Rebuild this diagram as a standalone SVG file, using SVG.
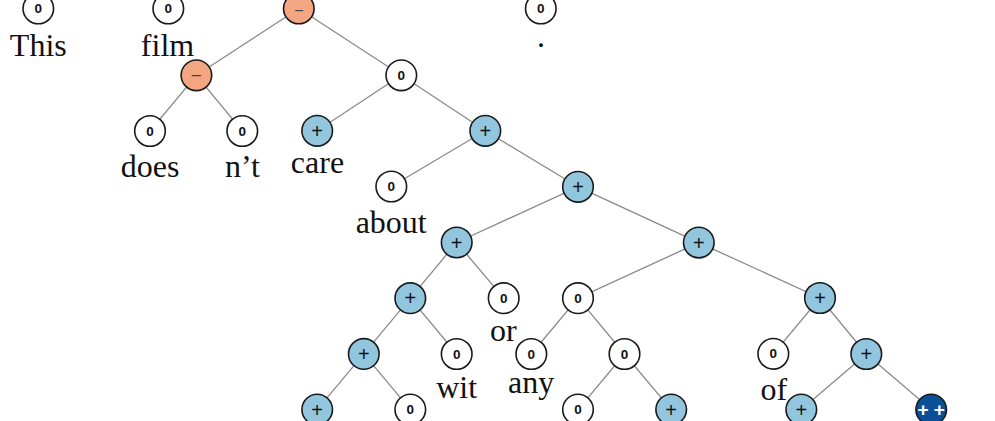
<svg xmlns="http://www.w3.org/2000/svg" width="995" height="421" viewBox="0 0 995 421">
<style>
.e{stroke:#8a8a8a;stroke-width:1.3;fill:none}
.c{stroke:#1a1a1a;stroke-width:1.6}
.z{fill:#ffffff}
.p{fill:#92c5de}
.m{fill:#f4a582}
.d{fill:#0b4f96}
.s{font-family:"Liberation Sans",Arial,sans-serif;text-anchor:middle;dominant-baseline:central;fill:#111}
.s0{font-size:13.5px;font-weight:bold}
.sp{font-size:20px}
.sm{font-size:19px;fill:#444}
.sq{font-size:19px;font-weight:bold;fill:#ffffff}
.w{font-family:"Liberation Serif","Times New Roman",serif;font-size:32px;text-anchor:middle;fill:#111}
</style>
<g id="edges">
<line class="e" x1="298.8" y1="8.5" x2="196.4" y2="75.3"/>
<line class="e" x1="298.8" y1="8.5" x2="401.3" y2="75.3"/>
<line class="e" x1="196.4" y1="75.3" x2="150" y2="131"/>
<line class="e" x1="196.4" y1="75.3" x2="242.3" y2="131"/>
<line class="e" x1="401.3" y1="75.3" x2="317.2" y2="130.8"/>
<line class="e" x1="401.3" y1="75.3" x2="485.3" y2="130.8"/>
<line class="e" x1="485.3" y1="130.8" x2="391.3" y2="186.5"/>
<line class="e" x1="485.3" y1="130.8" x2="578" y2="186.8"/>
<line class="e" x1="578" y1="186.8" x2="456.7" y2="242.5"/>
<line class="e" x1="578" y1="186.8" x2="698.8" y2="242.6"/>
<line class="e" x1="456.7" y1="242.5" x2="410.3" y2="298.2"/>
<line class="e" x1="456.7" y1="242.5" x2="503.7" y2="298.2"/>
<line class="e" x1="698.8" y1="242.6" x2="578" y2="298.2"/>
<line class="e" x1="698.8" y1="242.6" x2="820" y2="298"/>
<line class="e" x1="410.3" y1="298.2" x2="363.8" y2="353.9"/>
<line class="e" x1="410.3" y1="298.2" x2="456.7" y2="354"/>
<line class="e" x1="578" y1="298.2" x2="531.3" y2="354"/>
<line class="e" x1="578" y1="298.2" x2="624.5" y2="354"/>
<line class="e" x1="820" y1="298" x2="773.3" y2="353.8"/>
<line class="e" x1="820" y1="298" x2="866.3" y2="354"/>
<line class="e" x1="363.8" y1="353.9" x2="317.2" y2="409.6"/>
<line class="e" x1="363.8" y1="353.9" x2="410.3" y2="409.6"/>
<line class="e" x1="624.5" y1="354" x2="578" y2="409.6"/>
<line class="e" x1="624.5" y1="354" x2="671.2" y2="409.6"/>
<line class="e" x1="866.3" y1="354" x2="801.3" y2="409.6"/>
<line class="e" x1="866.3" y1="354" x2="931.2" y2="409.6"/>
</g>
<g id="n_this"><circle class="c z" cx="38.3" cy="8.5" r="15.3"/><text class="s s0" x="38.3" y="8.5">0</text><text class="w" x="38.3" y="55.5">This</text></g>
<g id="n_film"><circle class="c z" cx="168.3" cy="8.5" r="15.3"/><text class="s s0" x="168.3" y="8.5">0</text><text class="w" x="167.5" y="55.5">film</text></g>
<g id="n_root"><circle class="c m" cx="298.8" cy="8.5" r="15.3"/><text class="s sm" x="298.8" y="10.5" style="font-size:16px">−</text></g>
<g id="n_period"><circle class="c z" cx="540.8" cy="8.5" r="15.3"/><text class="s s0" x="540.8" y="8.5">0</text><text class="w" x="541" y="47">.</text></g>
<g id="n_neg"><circle class="c m" cx="196.4" cy="75.3" r="15.3"/><text class="s sm" x="196.4" y="75.3">−</text></g>
<g id="n_a"><circle class="c z" cx="401.3" cy="75.3" r="15.3"/><text class="s s0" x="401.3" y="75.3">0</text></g>
<g id="n_does"><circle class="c z" cx="150" cy="131" r="15.3"/><text class="s s0" x="150" y="131">0</text><text class="w" x="150" y="176.7">does</text></g>
<g id="n_nt"><circle class="c z" cx="242.3" cy="131" r="15.3"/><text class="s s0" x="242.3" y="131">0</text><text class="w" x="242.5" y="176.7">n’t</text></g>
<g id="n_care"><circle class="c p" cx="317.2" cy="130.8" r="15.3"/><text class="s sp" x="317.2" y="130.8">+</text><text class="w" x="317.5" y="173.3">care</text></g>
<g id="n_b"><circle class="c p" cx="485.3" cy="130.8" r="15.3"/><text class="s sp" x="485.3" y="130.8">+</text></g>
<g id="n_about"><circle class="c z" cx="391.3" cy="186.5" r="15.3"/><text class="s s0" x="391.3" y="186.5">0</text><text class="w" x="391.2" y="233.3">about</text></g>
<g id="n_c"><circle class="c p" cx="578" cy="186.8" r="15.3"/><text class="s sp" x="578" y="186.8">+</text></g>
<g id="n_d"><circle class="c p" cx="456.7" cy="242.5" r="15.3"/><text class="s sp" x="456.7" y="242.5">+</text></g>
<g id="n_e"><circle class="c p" cx="698.8" cy="242.6" r="15.3"/><text class="s sp" x="698.8" y="242.6">+</text></g>
<g id="n_f"><circle class="c p" cx="410.3" cy="298.2" r="15.3"/><text class="s sp" x="410.3" y="298.2">+</text></g>
<g id="n_or"><circle class="c z" cx="503.7" cy="298.2" r="15.3"/><text class="s s0" x="503.7" y="298.2">0</text><text class="w" x="503.3" y="340.7">or</text></g>
<g id="n_g"><circle class="c z" cx="578" cy="298.2" r="15.3"/><text class="s s0" x="578" y="298.2">0</text></g>
<g id="n_h"><circle class="c p" cx="820" cy="298" r="15.3"/><text class="s sp" x="820" y="298">+</text></g>
<g id="n_i"><circle class="c p" cx="363.8" cy="353.9" r="15.3"/><text class="s sp" x="363.8" y="353.9">+</text></g>
<g id="n_wit"><circle class="c z" cx="456.7" cy="354" r="15.3"/><text class="s s0" x="456.7" y="354">0</text><text class="w" x="456.7" y="398.3">wit</text></g>
<g id="n_any"><circle class="c z" cx="531.3" cy="354" r="15.3"/><text class="s s0" x="531.3" y="354">0</text><text class="w" x="531.2" y="393.3">any</text></g>
<g id="n_j"><circle class="c z" cx="624.5" cy="354" r="15.3"/><text class="s s0" x="624.5" y="354">0</text></g>
<g id="n_of"><circle class="c z" cx="773.3" cy="353.8" r="15.3"/><text class="s s0" x="773.3" y="353.8">0</text><text class="w" x="773.8" y="400">of</text></g>
<g id="n_k"><circle class="c p" cx="866.3" cy="354" r="15.3"/><text class="s sp" x="866.3" y="354">+</text></g>
<g id="n_l"><circle class="c p" cx="317.2" cy="409.6" r="15.3"/><text class="s sp" x="317.2" y="409.6">+</text></g>
<g id="n_m"><circle class="c z" cx="410.3" cy="409.6" r="15.3"/><text class="s s0" x="410.3" y="409.6">0</text></g>
<g id="n_n"><circle class="c z" cx="578" cy="409.6" r="15.3"/><text class="s s0" x="578" y="409.6">0</text></g>
<g id="n_o"><circle class="c p" cx="671.2" cy="409.6" r="15.3"/><text class="s sp" x="671.2" y="409.6">+</text></g>
<g id="n_p"><circle class="c p" cx="801.3" cy="409.6" r="15.3"/><text class="s sp" x="801.3" y="409.6">+</text></g>
<g id="n_q"><circle class="c d" cx="931.2" cy="409.6" r="15.3"/><text class="s sq" x="931.2" y="409.6">+ +</text></g>
</svg>
